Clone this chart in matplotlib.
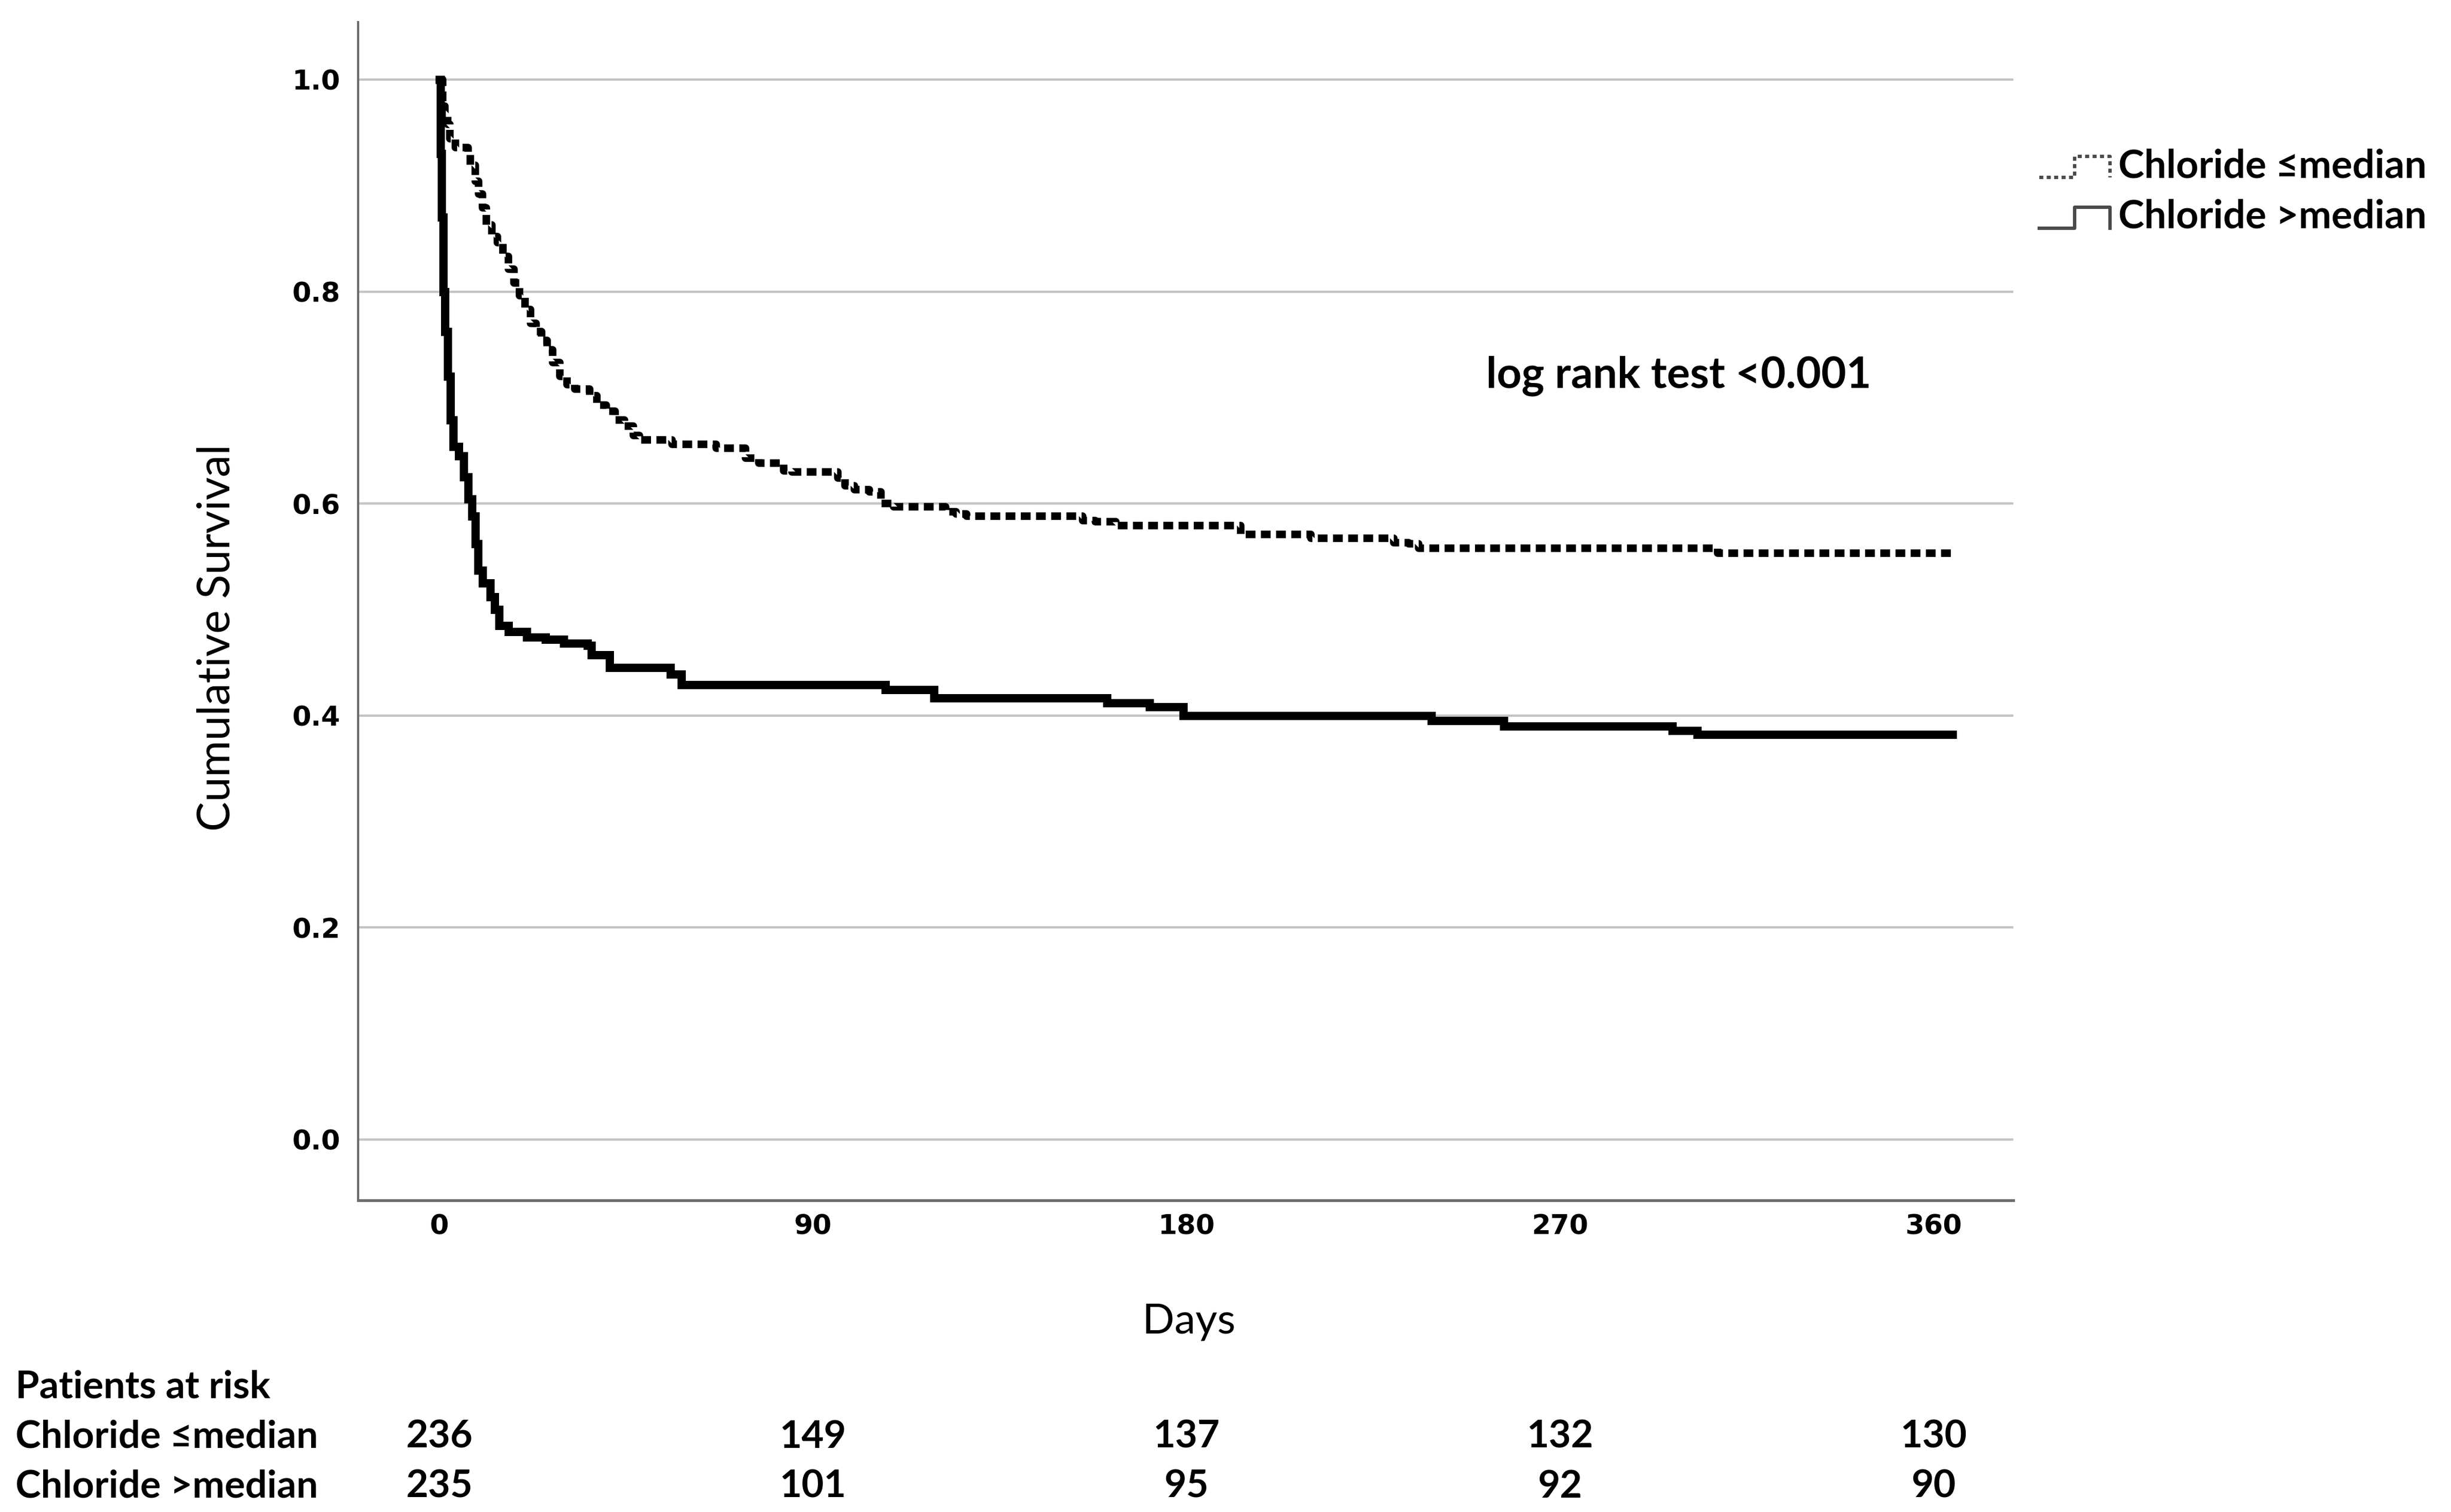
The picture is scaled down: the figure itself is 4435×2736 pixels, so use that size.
import matplotlib
matplotlib.use("Agg")
import matplotlib.pyplot as plt
import matplotlib.transforms as mtransforms
from matplotlib.legend_handler import HandlerBase
from matplotlib.lines import Line2D

plt.rcParams['font.family'] = ['Lato', 'DejaVu Sans']

# ---------------- data ----------------
days_le = [0, 0.8, 1.3, 2.0, 2.5, 3.8, 6.9, 7.5, 8.6, 9.5, 10.4, 11.3, 12.6, 14.0,
           15.3, 16.6, 18.0, 19.3, 20.6, 22.0, 23.3, 24.6, 26.0, 27.3, 29.0, 30.8,
           32.6, 36.2, 38.0, 40.2, 42.4, 44.6, 46.8, 48.2, 56.0, 66.7, 73.8, 77.0,
           83.0, 85.0, 96.0, 97.7, 100.0, 103.6, 106.4, 109.5, 122.0, 124.5, 127.0,
           155.0, 158.0, 163.0, 193.0, 210.0, 230.0, 233.6, 236.0, 308.0, 364.5]
surv_le = [1.000, 0.975, 0.968, 0.958, 0.944, 0.936, 0.929, 0.919, 0.904, 0.892,
           0.879, 0.863, 0.852, 0.846, 0.833, 0.821, 0.808, 0.796, 0.783, 0.770,
           0.762, 0.754, 0.745, 0.733, 0.720, 0.712, 0.708, 0.702, 0.693, 0.687,
           0.679, 0.673, 0.664, 0.660, 0.656, 0.652, 0.643, 0.638, 0.631, 0.630,
           0.624, 0.617, 0.613, 0.611, 0.600, 0.597, 0.592, 0.590, 0.588, 0.584,
           0.583, 0.579, 0.571, 0.567, 0.563, 0.562, 0.558, 0.553, 0.553]

days_gt = [0, 0.3, 0.6, 1.0, 1.33, 2.0, 2.66, 3.3, 4.66, 5.8, 6.9, 7.8, 8.7, 9.3,
           10.4, 12.2, 13.3, 14.4, 16.6, 21.0, 25.5, 30.0, 35.7, 36.6, 41.0, 55.7,
           58.3, 107.4, 119.2, 160.9, 171.1, 179.2, 239.0, 256.4, 297.0, 303.0, 364.5]
surv_gt = [1.000, 0.930, 0.870, 0.800, 0.762, 0.720, 0.679, 0.654, 0.645, 0.625,
           0.604, 0.588, 0.562, 0.537, 0.525, 0.512, 0.500, 0.485, 0.479, 0.474,
           0.472, 0.468, 0.466, 0.457, 0.445, 0.439, 0.429, 0.4246, 0.4164, 0.412,
           0.408, 0.400, 0.395, 0.390, 0.386, 0.382, 0.382]

group_labels = ['Chloride \u2264median', 'Chloride >median']
xticks = [0, 90, 180, 270, 360]
yticks = [0.0, 0.2, 0.4, 0.6, 0.8, 1.0]
ytick_labels = ['0.0', '0.2', '0.4', '0.6', '0.8', '1.0']
at_risk_le = [236, 149, 137, 132, 130]
at_risk_gt = [235, 101, 95, 92, 90]
pvalue_text = 'log rank test <0.001'

# ---------------- layout ----------------
W, H = 4435, 2736
DPI = 200
fig = plt.figure(figsize=(W / DPI, H / DPI), dpi=DPI)
fig.patch.set_facecolor('white')
ax = fig.add_axes([648 / W, 1 - 2172 / H, (3643 - 648) / W, (2172 - 40) / H])

ax.set_xlim(-19.57, 379.2)
ax.set_ylim(-0.0574, 1.0542)

ax.step(days_le, surv_le, where='post', color='black', linewidth=4.9,
        linestyle=(0, (1.3, 0.72)), dash_capstyle='butt', solid_capstyle='butt',
        zorder=3)
ax.step(days_gt, surv_gt, where='post', color='black', linewidth=5.4,
        solid_joinstyle='miter', zorder=3)

ax.set_xticks(xticks)
ax.set_xticklabels([str(t) for t in xticks])
ax.set_yticks(yticks)
ax.set_yticklabels(ytick_labels)
for lab in ax.get_xticklabels() + ax.get_yticklabels():
    lab.set_fontfamily('DejaVu Sans')
    lab.set_fontweight('bold')
    lab.set_fontsize(17.8)
ax.tick_params(axis='both', length=0)
ax.tick_params(axis='x', pad=8.5)
ax.tick_params(axis='y', pad=11.5)

ax.yaxis.grid(True, color='#c4c4c4', linewidth=1.5)
ax.set_axisbelow(True)
for s in ['top', 'right']:
    ax.spines[s].set_visible(False)
ax.spines['left'].set_color('#6a6a6a')
ax.spines['left'].set_linewidth(1.4)
ax.spines['bottom'].set_color('#6e6e6e')
ax.spines['bottom'].set_linewidth(1.8)

# axis titles
fig.text(415 / W, 1 - 1154 / H, 'Cumulative Survival', rotation=90,
         rotation_mode='anchor', ha='center', va='baseline', fontsize=29,
         family=['Lato', 'DejaVu Sans'])
fig.text(2151 / W, 1 - 2413 / H, 'Days', ha='center', va='baseline',
         fontsize=27.5, family=['Lato', 'DejaVu Sans'])

# log rank annotation
fig.text(2689 / W, 1 - 702 / H, pvalue_text, ha='left', va='baseline',
         fontsize=28.2, fontweight='bold', family=['Lato', 'DejaVu Sans'])


# legend with step-shaped handles
class StepHandler(HandlerBase):
    def create_artists(self, legend, orig_handle, xdescent, ydescent,
                       width, height, fontsize, trans):
        x0 = -xdescent
        hh = 0.53 * fontsize
        xs = [x0, x0 + 0.5 * width, x0 + 0.5 * width, x0 + width, x0 + width]
        ys = [0, 0, hh, hh, 0]
        line = Line2D(xs, ys)
        line.update_from(orig_handle)
        line.set_transform(trans)
        return [line]


h_le = Line2D([], [], color='#4a4a4a', linewidth=2.2,
              linestyle=(0, (1.2, 1.0)), dash_capstyle='butt')
h_gt = Line2D([], [], color='#4a4a4a', linewidth=2.2)
leg = ax.legend([h_le, h_gt], group_labels,
                handler_map={Line2D: StepHandler()},
                loc='upper left', bbox_to_anchor=(3690 / W, 1 - 268 / H),
                bbox_transform=fig.transFigure, frameon=False,
                prop=dict(family=['Lato', 'DejaVu Sans'], weight='bold', size=25.5),
                handlelength=1.8, handleheight=0.55, handletextpad=0.22,
                labelspacing=0.38, borderpad=0, borderaxespad=0)

# numbers at risk table
risk_font = dict(fontsize=25, fontweight='bold', family=['Lato', 'DejaVu Sans'])
fig.text(28 / W, 1 - 2530 / H, 'Patients at risk', ha='left', va='baseline', **risk_font)
row_y = [1 - 2620 / H, 1 - 2710 / H]
blend = mtransforms.blended_transform_factory(ax.transData, fig.transFigure)
for label, counts, yy in zip(group_labels, [at_risk_le, at_risk_gt], row_y):
    fig.text(28 / W, yy, label, ha='left', va='baseline', **risk_font)
    for t, n in zip(xticks, counts):
        ax.text(t, yy, str(n), transform=blend, ha='center', va='baseline',
                clip_on=False, **risk_font)

fig.savefig('out.png', dpi=DPI, facecolor='white')
